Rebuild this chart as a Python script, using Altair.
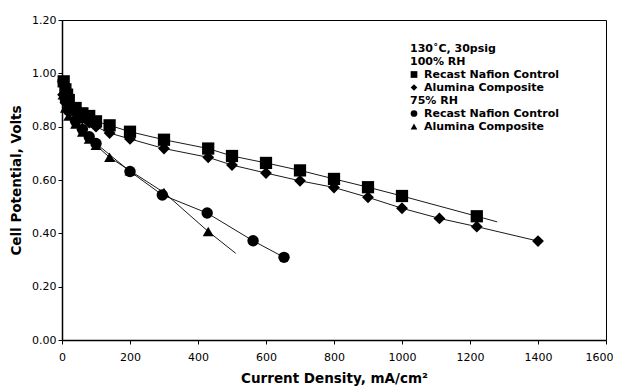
import altair as alt
import pandas as pd

# 100% RH, Recast Nafion Control (squares)
sq_x = [5, 10, 15, 20, 40, 60, 80, 100, 140, 200, 300, 430, 500, 600, 700, 800, 900, 1000, 1220]
sq_y = [0.97, 0.94, 0.92, 0.90, 0.87, 0.85, 0.84, 0.82, 0.805, 0.781, 0.751, 0.718, 0.69, 0.664, 0.636, 0.604, 0.573, 0.54, 0.464]
# 100% RH, Alumina Composite (diamonds)
di_x = [3, 10, 20, 40, 60, 80, 100, 140, 200, 300, 430, 500, 600, 700, 800, 900, 1000, 1110, 1220, 1400]
di_y = [0.92, 0.89, 0.87, 0.85, 0.83, 0.815, 0.80, 0.776, 0.754, 0.718, 0.685, 0.656, 0.626, 0.597, 0.572, 0.535, 0.494, 0.456, 0.425, 0.371]
# 75% RH, Recast Nafion Control (circles)
ci_x = [3, 10, 20, 40, 60, 80, 100, 200, 295, 427, 562, 653]
ci_y = [0.97, 0.90, 0.86, 0.82, 0.79, 0.762, 0.737, 0.632, 0.544, 0.476, 0.372, 0.31]
# 75% RH, Alumina Composite (triangles)
tr_x = [3, 10, 20, 40, 60, 80, 100, 140, 200, 300, 430]
tr_y = [0.92, 0.87, 0.84, 0.81, 0.78, 0.754, 0.73, 0.685, 0.635, 0.553, 0.407]

# fitted-curve extensions beyond the last measured point
sq_fit_end = (1280, 0.443)
tr_fit_end = (511, 0.325)

series_names = ["sq", "di", "ci", "tr"]
shapes = ["square", "diamond", "circle", "triangle-up"]

pts = pd.concat([
    pd.DataFrame({"x": sq_x, "y": sq_y, "s": "sq"}),
    pd.DataFrame({"x": di_x, "y": di_y, "s": "di"}),
    pd.DataFrame({"x": ci_x, "y": ci_y, "s": "ci"}),
    pd.DataFrame({"x": tr_x, "y": tr_y, "s": "tr"}),
], ignore_index=True)

lines = pd.concat([
    pd.DataFrame({"x": sq_x + [sq_fit_end[0]], "y": sq_y + [sq_fit_end[1]], "s": "sq"}),
    pd.DataFrame({"x": di_x, "y": di_y, "s": "di"}),
    pd.DataFrame({"x": ci_x, "y": ci_y, "s": "ci"}),
    pd.DataFrame({"x": tr_x + [tr_fit_end[0]], "y": tr_y + [tr_fit_end[1]], "s": "tr"}),
], ignore_index=True)

FONT = "DejaVu Sans"

xenc = alt.X("x:Q", scale=alt.Scale(domain=[0, 1600], nice=False),
             axis=alt.Axis(values=list(range(0, 1601, 200)), format="d", title="Current Density, mA/cm²",
                           grid=False, labelFlush=False, labelPadding=7, titlePadding=9,
                           labelOffset={"condition": {"test": "datum.value == 1600", "value": -7}, "value": 0}))
yenc = alt.Y("y:Q", scale=alt.Scale(domain=[0, 1.2], nice=False),
             axis=alt.Axis(values=[0, 0.2, 0.4, 0.6, 0.8, 1.0, 1.2], format=".2f", labelFlush=False,
                           title="Cell Potential, Volts", grid=False, titlePadding=8))

line_layer = alt.Chart(lines).mark_line(color="black", strokeWidth=0.9).encode(
    x=xenc, y=yenc, detail="s:N", order=alt.Order("x:Q"))

pt_layer = alt.Chart(pts).mark_point(filled=True, color="black", opacity=1).encode(
    x="x:Q", y="y:Q",
    shape=alt.Shape("s:N", scale=alt.Scale(domain=series_names, range=shapes), legend=None),
    size=alt.Size("s:N", scale=alt.Scale(domain=series_names, range=[150, 120, 130, 130]), legend=None),
)

legend_lines = [
    ("130˚C, 30psig", None),
    ("100% RH", None),
    ("Recast Nafion Control", "square"),
    (" Alumina Composite", "diamond"),
    ("75% RH", None),
    ("Recast Nafion Control", "circle"),
    (" Alumina Composite", "triangle-up"),
]

layers = [line_layer, pt_layer]
for i, (txt, shp) in enumerate(legend_lines):
    yy = 28.5 + 13 * i
    tx = 348 if shp is None else 362
    layers.append(
        alt.Chart(pd.DataFrame({"t": [txt]})).mark_text(
            align="left", baseline="middle", font=FONT, fontSize=11, fontWeight="bold", color="black"
        ).encode(x=alt.value(tx), y=alt.value(yy), text="t:N")
    )
    if shp is not None:
        layers.append(
            alt.Chart(pd.DataFrame({"t": [txt]})).mark_point(
                shape=shp, filled=True, color="black", opacity=1, size=45
            ).encode(x=alt.value(352), y=alt.value(yy))
        )

chart = alt.layer(*layers).properties(
    width=544, height=320,
    padding={"top": 6, "left": 1, "right": 0, "bottom": 5},
).configure_view(
    stroke="black", strokeWidth=1
).configure_axis(
    domainColor="black", domainWidth=1.5, tickColor="black", tickSize=4,
    labelFont=FONT, labelFontSize=11, labelColor="black",
    titleFont=FONT, titleFontSize=13.5, titleFontWeight="bold", titleColor="black",
)

chart.save("out.html", embed_options={"renderer": "svg", "actions": False})
